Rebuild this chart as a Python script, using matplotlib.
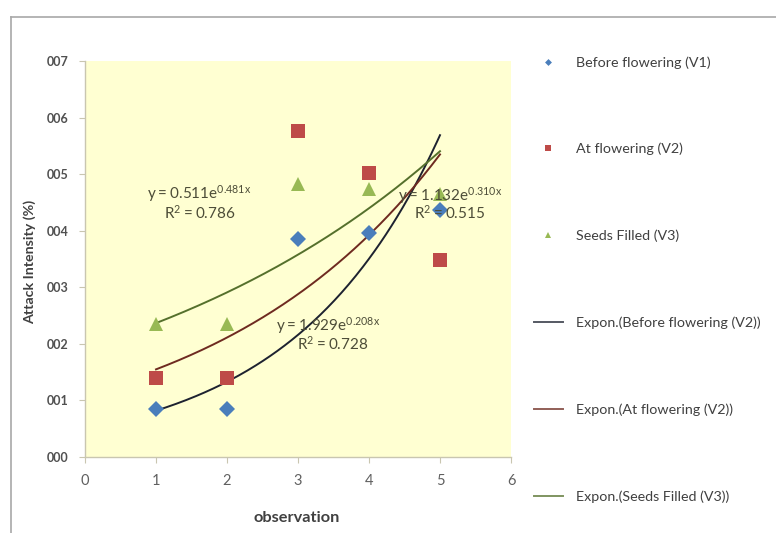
import numpy as np
import matplotlib
matplotlib.use("Agg")
import matplotlib.pyplot as plt
from matplotlib.lines import Line2D

plt.rcParams['font.family'] = ['Lato', 'DejaVu Sans']

# ---- data ----
observations = [1, 2, 3, 4, 5]
before_flowering = [0.84, 0.84, 3.85, 3.96, 4.36]
at_flowering = [1.40, 1.40, 5.77, 5.02, 3.48]
seeds_filled = [2.35, 2.35, 4.82, 4.73, 4.65]

series_labels = ["Before flowering (V1)", "At flowering (V2)", "Seeds Filled (V3)"]
fit_labels = ["Expon.(Before flowering (V2))", "Expon.(At flowering (V2))",
              "Expon.(Seeds Filled (V3))"]
ytick_values = [0, 1, 2, 3, 4, 5, 6, 7]
ytick_labels = ["000", "001", "002", "003", "004", "005", "006", "007"]
xtick_values = [0, 1, 2, 3, 4, 5, 6]

eq_texts = [r"$\mathregular{y = 0.511e^{0.481x}}$",
            r"$\mathregular{y = 1.132e^{0.310x}}$",
            r"$\mathregular{y = 1.929e^{0.208x}}$"]
r2_texts = [r"$\mathregular{R^2 = 0.786}$",
            r"$\mathregular{R^2 = 0.515}$",
            r"$\mathregular{R^2 = 0.728}$"]
eq_pos = [(1.61, 4.65), (5.14, 4.63), (3.42, 2.32)]
r2_pos = [(1.61, 4.31), (5.14, 4.31), (3.49, 2.00)]

marker_colors = ["#4A7EBB", "#BE4B48", "#98B954"]
fit_colors = ["#1d2230", "#6e2a20", "#55702c"]
markers = ["D", "s", "^"]
marker_sizes = [8, 9.8, 9.5]
legend_marker_sizes = [3.5, 5, 4]

fig = plt.figure(figsize=(7.76, 5.33), dpi=100)
ax = fig.add_axes([85/776, 1 - 457/533, (511-85)/776, (457-61)/533])
ax.set_facecolor("#FFFFD2")

x = np.array(observations, dtype=float)
xs = np.linspace(1, 5, 200)
handles_pts = []
handles_fit = []
for ys, mc, fc, mk, ms, lms in zip([before_flowering, at_flowering, seeds_filled],
                                   marker_colors, fit_colors, markers,
                                   marker_sizes, legend_marker_sizes):
    ax.plot(x, ys, linestyle="none", marker=mk, color=mc, markersize=ms,
            markeredgewidth=0, zorder=3)
    b, lna = np.polyfit(x, np.log(ys), 1)
    ax.plot(xs, np.exp(lna) * np.exp(b * xs), color=fc, lw=1.4, zorder=2)
    handles_pts.append(Line2D([], [], linestyle="none", marker=mk, color=mc,
                              markersize=lms, markeredgewidth=0))
    handles_fit.append(Line2D([], [], color=fc, lw=1.4, alpha=0.75))

for t, (px, py) in zip(eq_texts, eq_pos):
    ax.text(px, py, t, ha="center", va="center", fontsize=11, color="#4d4d38", zorder=4)
for t, (px, py) in zip(r2_texts, r2_pos):
    ax.text(px, py, t, ha="center", va="center", fontsize=11, color="#4d4d38", zorder=4)

ax.set_xlim(0, 6)
ax.set_ylim(0, 7)
ax.set_xticks(xtick_values)
ax.set_yticks(ytick_values)
ax.set_yticklabels(ytick_labels)
for s in ["top", "right"]:
    ax.spines[s].set_visible(False)
for s in ["left", "bottom"]:
    ax.spines[s].set_color("#c9c6b0")
    ax.spines[s].set_linewidth(1.0)
ax.tick_params(axis="y", length=4, color="#c9c6b0", labelsize=9, labelcolor="#505050", pad=8)
ax.tick_params(axis="x", length=4, color="#c9c6b0", labelsize=10.5, labelcolor="#606060", pad=8)
for lab in ax.get_yticklabels():
    lab.set_fontweight("bold")

fig.text(30/776, 1 - 262/533, "Attack Intensity (%)", rotation=90, ha="center",
         va="center", fontsize=10.3, fontweight="bold", color="#404040")
fig.text(297/776, 1 - 518/533, "observation", ha="center", va="center",
         fontsize=11.8, fontweight="bold", color="#404040")

leg = fig.legend(handles_pts + handles_fit, series_labels + fit_labels,
                 loc="upper left", bbox_to_anchor=(534/776, 1 - 56/533),
                 frameon=False, fontsize=10.3, labelspacing=5.2,
                 handlelength=2.0, handletextpad=0.95, borderpad=0,
                 borderaxespad=0, labelcolor="#404040")

# outer frame lines
fig.add_artist(Line2D([11/776, 1], [1 - 17/533, 1 - 17/533], color="#a8a8a8", lw=1.2,
                      transform=fig.transFigure))
fig.add_artist(Line2D([11/776, 11/776], [0, 1 - 17/533], color="#a8a8a8", lw=1.2,
                      transform=fig.transFigure))

fig.savefig("out.png", dpi=100)
